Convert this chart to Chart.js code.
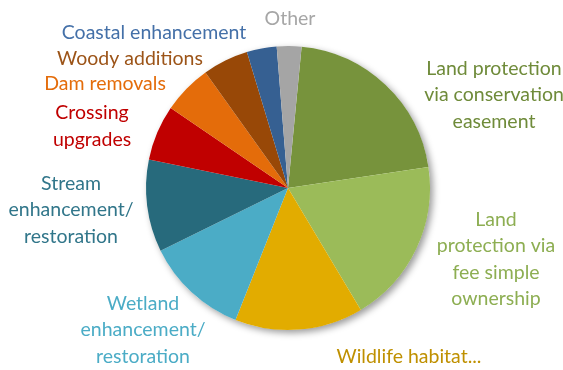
<!DOCTYPE html>
<html>
<head>
<meta charset="utf-8">
<script src="https://cdn.jsdelivr.net/npm/chart.js@4"></script>
<style>
  html, body { margin: 0; padding: 0; background: #fff; }
  #wrap { width: 563px; height: 370px; }
</style>
</head>
<body>
<div id="wrap"><canvas id="project-chart"></canvas></div>
<script>
// categories (one entry per line of the label)
const categories = [
    ['Land protection', 'via conservation', 'easement'],
    ['Land', 'protection via', 'fee simple', 'ownership'],
    ['Wildlife habitat...'],
    ['Wetland', 'enhancement/', 'restoration'],
    ['Stream', 'enhancement/', 'restoration'],
    ['Crossing', 'upgrades'],
    ['Dam removals'],
    ['Woody additions'],
    ['Coastal enhancement'],
    ['Other']
];
// share of projects, percent
const shares = [21.1, 18.8, 14.6, 11.7, 10.5, 6.3, 5.6, 5.2, 3.4, 2.8];

const sliceColors = ['#77933C', '#9BBB59', '#E2AC00', '#4BACC6', '#276A7C', '#C00000', '#E46C0A', '#984807', '#366092', '#A5A5A5'];
const textColors = ['#6F8B3A', '#8DAE52', '#BF9000', '#4BACC6', '#31768A', '#C00000', '#E46C0A', '#9C5418', '#4470A8', '#A6A6A6'];
// label block centre, relative to the pie centre
const labelOffsets = [[206, -93], [208, 71], [121, 169], [-145, 142], [-217, 22], [-196, -62], [-183, -104], [-158, -129], [-134, -155], [2, -169]];

const ctx = document.getElementById('project-chart');

const pieShadow = {
    id: 'pieShadow',
    beforeDatasetsDraw(chart) {
        const arc = chart.getDatasetMeta(0).data[0];
        if (!arc) return;
        const c = chart.ctx;
        c.save();
        c.shadowColor = 'rgba(0,0,0,0.4)';
        c.shadowBlur = 7;
        c.shadowOffsetX = 3;
        c.shadowOffsetY = 3;
        c.fillStyle = '#fff';
        c.beginPath();
        c.arc(arc.x, arc.y, arc.outerRadius, 0, Math.PI * 2);
        c.fill();
        c.restore();
    }
};

const outsideLabels = {
    id: 'outsideLabels',
    afterDatasetsDraw(chart) {
        const arcs = chart.getDatasetMeta(0).data;
        const c = chart.ctx;
        c.save();
        c.font = '19.5px Lato';
        c.textAlign = 'center';
        c.textBaseline = 'middle';
        const lh = 26.5;
        arcs.forEach((arc, i) => {
            const lines = chart.data.labels[i];
            const cx = arc.x + labelOffsets[i][0];
            const cy = arc.y + labelOffsets[i][1];
            c.fillStyle = textColors[i];
            lines.forEach((ln, j) => {
                c.fillText(ln, cx, cy + (j - (lines.length - 1) / 2) * lh);
            });
        });
        c.restore();
    }
};

new Chart(ctx, {
    type: 'pie',
    data: {
        labels: categories,
        datasets: [{
            data: shares,
            backgroundColor: sliceColors,
            borderWidth: 0
        }]
    },
    options: {
        responsive: true,
        maintainAspectRatio: false,
        animation: false,
        rotation: 5.5,
        layout: {
            padding: { top: 46, bottom: 40, left: 146, right: 133 }
        },
        plugins: {
            legend: { display: false },
            tooltip: { enabled: false }
        }
    },
    plugins: [pieShadow, outsideLabels]
});
</script>
</body>
</html>
